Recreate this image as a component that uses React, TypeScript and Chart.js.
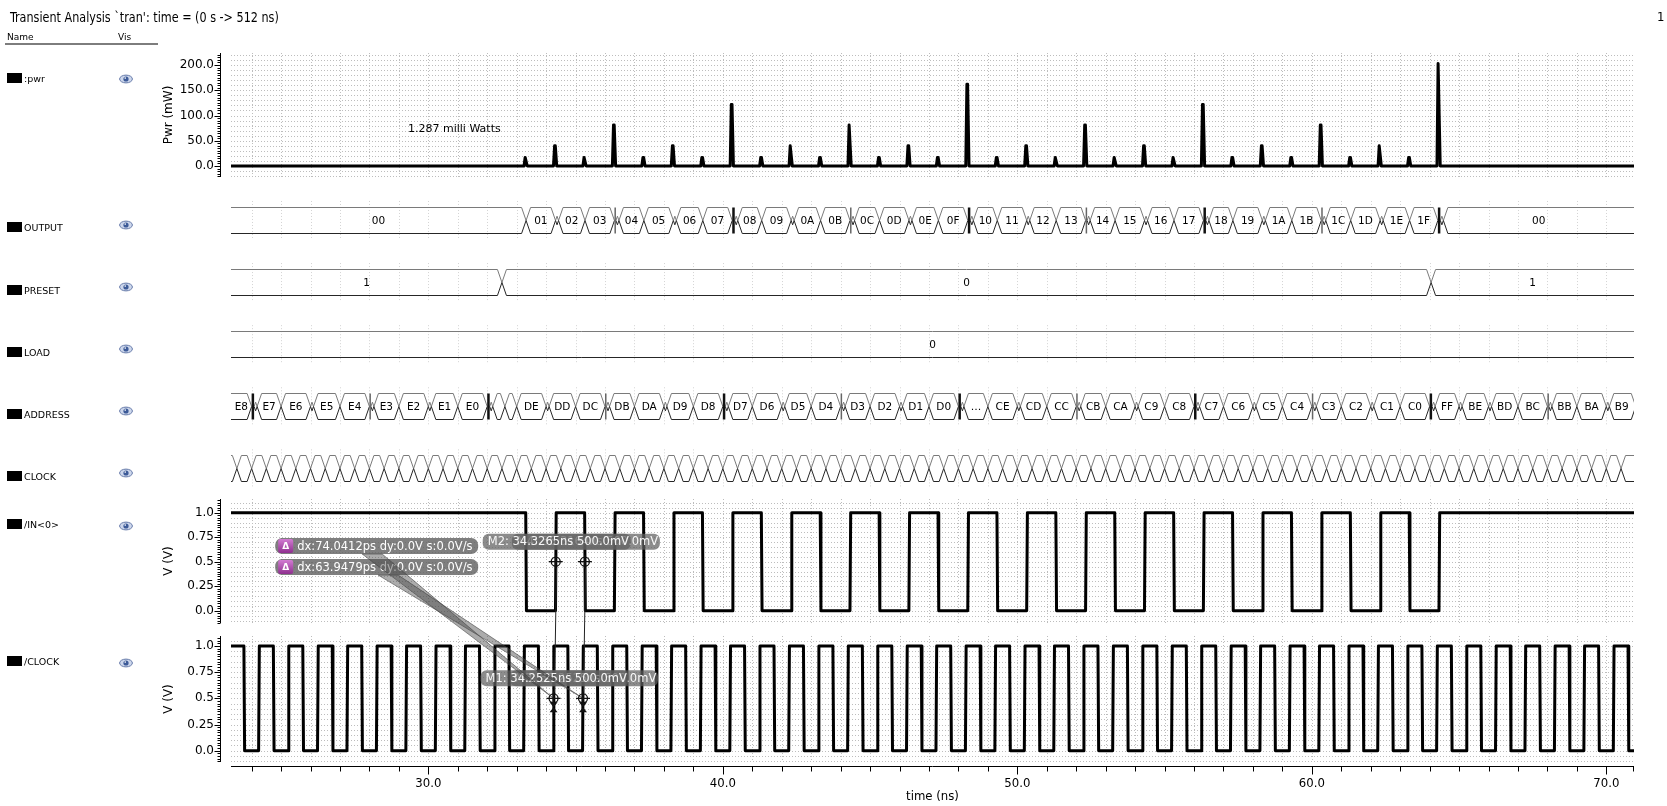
import { useEffect, useRef } from "react";
import { Chart, registerables } from "chart.js";

Chart.register(...registerables);

// ---------------- data ----------------
const X_MIN = 23.3;
const X_MAX = 70.94;
const X_LABEL_TICKS = [30, 40, 50, 60, 70];
const PWR_LABEL_TICKS = [0, 50, 100, 150, 200];
const VOLT_LABEL_TICKS = [0, 0.25, 0.5, 0.75, 1.0];

const PWR_SPIKE_TIMES = [33.3, 34.3, 35.3, 36.3, 37.3, 38.3, 39.3, 40.3, 41.3, 42.3, 43.3, 44.3, 45.3, 46.3, 47.3, 48.3, 49.3, 50.3, 51.3, 52.3, 53.3, 54.3, 55.3, 56.3, 57.3, 58.3, 59.3, 60.3, 61.3, 62.3, 63.3, 64.3];
const PWR_SPIKE_MW = [17, 40, 17, 81, 17, 40, 17, 122, 17, 40, 17, 81, 17, 40, 17, 162, 17, 40, 17, 81, 17, 40, 17, 122, 17, 40, 17, 81, 17, 40, 17, 203];
const PWR_AVG_TEXT = "1.287 milli Watts";

const IN0_INITIAL = 1;
const IN0_EDGE_TIMES = [33.32, 34.33, 35.32, 36.33, 37.32, 38.33, 39.32, 40.33, 41.32, 42.33, 43.32, 44.33, 45.32, 46.33, 47.32, 48.33, 49.32, 50.33, 51.32, 52.33, 53.32, 54.33, 55.32, 56.33, 57.32, 58.33, 59.32, 60.33, 61.32, 62.33, 63.32, 64.33];
const IN0_EDGE_LEVELS = [0, 1, 0, 1, 0, 1, 0, 1, 0, 1, 0, 1, 0, 1, 0, 1, 0, 1, 0, 1, 0, 1, 0, 1, 0, 1, 0, 1, 0, 1, 0, 1];

const CLK_INITIAL = 1;
const CLK_EDGE_TIMES = [23.75, 24.25, 24.75, 25.25, 25.75, 26.25, 26.75, 27.25, 27.75, 28.25, 28.75, 29.25, 29.75, 30.25, 30.75, 31.25, 31.75, 32.25, 32.75, 33.25, 33.75, 34.25, 34.75, 35.25, 35.75, 36.25, 36.75, 37.25, 37.75, 38.25, 38.75, 39.25, 39.75, 40.25, 40.75, 41.25, 41.75, 42.25, 42.75, 43.25, 43.75, 44.25, 44.75, 45.25, 45.75, 46.25, 46.75, 47.25, 47.75, 48.25, 48.75, 49.25, 49.75, 50.25, 50.75, 51.25, 51.75, 52.25, 52.75, 53.25, 53.75, 54.25, 54.75, 55.25, 55.75, 56.25, 56.75, 57.25, 57.75, 58.25, 58.75, 59.25, 59.75, 60.25, 60.75, 61.25, 61.75, 62.25, 62.75, 63.25, 63.75, 64.25, 64.75, 65.25, 65.75, 66.25, 66.75, 67.25, 67.75, 68.25, 68.75, 69.25, 69.75, 70.25, 70.75];
const CLK_EDGE_LEVELS = "01010101010101010101010101010101010101010101010101010101010101010101010101010101010101010101010".split("").map(Number);

const OUTPUT_TIMES = [33.32, 34.32, 35.32, 36.32, 37.32, 38.32, 39.32, 40.32, 41.32, 42.32, 43.32, 44.32, 45.32, 46.32, 47.32, 48.32, 49.32, 50.32, 51.32, 52.32, 53.32, 54.32, 55.32, 56.32, 57.32, 58.32, 59.32, 60.32, 61.32, 62.32, 63.32, 64.28];
const OUTPUT_VALUES = ["00", "01", "02", "03", "04", "05", "06", "07", "08", "09", "0A", "0B", "0C", "0D", "0E", "0F", "10", "11", "12", "13", "14", "15", "16", "17", "18", "19", "1A", "1B", "1C", "1D", "1E", "1F", "00"];

const PRESET_TIMES = [32.5, 64.05];
const PRESET_VALUES = ["1", "0", "1"];

const LOAD_TIMES: number[] = [];
const LOAD_VALUES = ["0"];

const ADDRESS_TIMES = [24, 25, 26, 27, 28, 29, 30, 31, 32, 32.6, 33, 34, 35, 36, 37, 38, 39, 40, 41, 42, 43, 44, 45, 46, 47, 48, 49, 50, 51, 52, 53, 54, 55, 56, 57, 58, 59, 60, 61, 62, 63, 64, 65, 66, 67, 68, 69, 70, 71];
const ADDRESS_VALUES = ["E8", "E7", "E6", "E5", "E4", "E3", "E2", "E1", "E0", "FF", "DF", "DE", "DD", "DC", "DB", "DA", "D9", "D8", "D7", "D6", "D5", "D4", "D3", "D2", "D1", "D0", "CF", "CE", "CD", "CC", "CB", "CA", "C9", "C8", "C7", "C6", "C5", "C4", "C3", "C2", "C1", "C0", "FF", "BE", "BD", "BC", "BB", "BA", "B9", "B8"];
const ADDRESS_ELIDED = ["CF"];

const CLOCK_BUS_TIMES = [23.5, 24, 24.5, 25, 25.5, 26, 26.5, 27, 27.5, 28, 28.5, 29, 29.5, 30, 30.5, 31, 31.5, 32, 32.5, 33, 33.5, 34, 34.5, 35, 35.5, 36, 36.5, 37, 37.5, 38, 38.5, 39, 39.5, 40, 40.5, 41, 41.5, 42, 42.5, 43, 43.5, 44, 44.5, 45, 45.5, 46, 46.5, 47, 47.5, 48, 48.5, 49, 49.5, 50, 50.5, 51, 51.5, 52, 52.5, 53, 53.5, 54, 54.5, 55, 55.5, 56, 56.5, 57, 57.5, 58, 58.5, 59, 59.5, 60, 60.5, 61, 61.5, 62, 62.5, 63, 63.5, 64, 64.5, 65, 65.5, 66, 66.5, 67, 67.5, 68, 68.5, 69, 69.5, 70, 70.5];
const CLOCK_BUS_VALUES = "101010101010101010101010101010101010101010101010101010101010101010101010101010101010101010101010".split("");

const SIGNAL_NAMES = [":pwr", "OUTPUT", "PRESET", "LOAD", "ADDRESS", "CLOCK", "/IN<0>", "/CLOCK"];

// drawn in this order: later ones lie on top
const MARKERS = [
  { name: "M4", axis: "yIn", t: 35.3164, v: 0.5 },
  { name: "M2", axis: "yIn", t: 34.3265, v: 0.5 },
  { name: "M3", axis: "yClk", t: 35.2525, v: 0.5 },
  { name: "M1", axis: "yClk", t: 34.2525, v: 0.5 },
];
const DELTAS = [
  { a: "M1", b: "M2", dxPs: "74.0412", dy: "0.0", slope: "0.0" },
  { a: "M3", b: "M4", dxPs: "63.9479", dy: "0.0", slope: "0.0" },
];

// ---------------- layout / style ----------------
const W = 1667;
const H = 806;
const SANS = "'DejaVu Sans', 'Noto Sans', sans-serif";
const NARROW = "'Liberation Sans Narrow', 'DejaVu Sans Condensed', 'Arial Narrow', sans-serif";
const GRID_COLOR = "#bdbdbd";
const DIG_GRID_COLOR = "#d4d4d4";
const ROW_Y = [79, 228, 291, 353, 415, 477, 525, 662];
const EYE_Y = [79, 224.5, 287, 349, 411, 473, 526, 663];
const DELTA_ANCHORS = [
  { t: 24.8, v: 0.66, wedgeDx: 97 },
  { t: 24.8, v: 0.445, wedgeDx: 113 },
];

function fmtV(v: number) {
  const r = Math.round(v * 100) / 100;
  return Number.isInteger(Math.round(r * 1000) / 100) ? r.toFixed(1) : String(r);
}

function stepSeries(initial: number, times: number[], levels: number[]) {
  const pts: { x: number; y: number }[] = [{ x: X_MIN, y: initial }];
  let cur = initial;
  times.forEach((t, i) => {
    pts.push({ x: t - 0.012, y: cur });
    pts.push({ x: t + 0.012, y: levels[i] });
    cur = levels[i];
  });
  pts.push({ x: X_MAX, y: cur });
  return pts;
}

function powerSeries() {
  const pts: { x: number; y: number }[] = [{ x: X_MIN, y: 0 }];
  PWR_SPIKE_TIMES.forEach((t, i) => {
    const v = PWR_SPIKE_MW[i];
    pts.push({ x: t - 0.05, y: 0 }, { x: t - 0.012, y: v }, { x: t + 0.012, y: v }, { x: t + 0.06, y: 0 });
  });
  pts.push({ x: X_MAX, y: 0 });
  return pts;
}

function hexFlips(a: string, b: string) {
  if (!/^[0-9A-F]+$/i.test(a) || !/^[0-9A-F]+$/i.test(b)) return 1;
  let v = parseInt(a, 16) ^ parseInt(b, 16);
  let c = 0;
  while (v) {
    c += v & 1;
    v >>= 1;
  }
  return c;
}

function drawBus(ctx: any, X: (t: number) => number, area: any, yc: number, times: number[], values: string[], elided: string[] = []) {
  const HH = 13;
  const S = 4.5;
  const top = Math.round(yc - HH) + 0.5;
  const bot = Math.round(yc + HH) + 0.5;
  const mid = (top + bot) / 2;
  const hFull = (bot - top) / 2;
  ctx.save();
  ctx.beginPath();
  ctx.rect(area.left, top - 4, area.right - area.left, bot - top + 8);
  ctx.clip();
  ctx.setLineDash([]);
  ctx.lineWidth = 1;
  const boxes: any[] = [];
  const bars: any[] = [];
  let xa = area.left - 40;
  let openL = true;
  for (let i = 0; i < values.length; i++) {
    const last = i === values.length - 1;
    const xb = last ? area.right + 40 : X(times[i]);
    boxes.push({ xa, xb, openL, openR: last, label: values[i] });
    if (!last) {
      const k = hexFlips(values[i], values[i + 1]);
      let nx = xb;
      if (k >= 3) {
        const bw = k >= 4 ? 2.5 : 1.5;
        bars.push({ x: nx, w: bw, c: k >= 4 ? "#111" : "#666" });
        nx += bw;
      }
      if (k >= 2) {
        boxes.push({ xa: nx, xb: nx + 3, openL: false, openR: false, label: "" });
        nx += 3;
      }
      xa = nx;
      openL = false;
    }
  }
  ctx.font = `10.5px ${SANS}`;
  ctx.textAlign = "center";
  ctx.textBaseline = "middle";
  for (const b of boxes) {
    const w = b.xb - b.xa;
    const s = Math.min(S, w / 2);
    const hh = (s / S) * hFull;
    ctx.beginPath();
    if (b.openL) ctx.moveTo(b.xa, mid - hFull);
    else {
      ctx.moveTo(b.xa, mid);
      ctx.lineTo(b.xa + s, mid - hh);
    }
    if (b.openR) ctx.lineTo(b.xb, mid - hFull);
    else {
      ctx.lineTo(b.xb - s, mid - hh);
      ctx.lineTo(b.xb, mid);
    }
    ctx.strokeStyle = "#7a7a7a";
    ctx.stroke();
    ctx.beginPath();
    if (b.openL) ctx.moveTo(b.xa, mid + hFull);
    else {
      ctx.moveTo(b.xa, mid);
      ctx.lineTo(b.xa + s, mid + hh);
    }
    if (b.openR) ctx.lineTo(b.xb, mid + hFull);
    else {
      ctx.lineTo(b.xb - s, mid + hh);
      ctx.lineTo(b.xb, mid);
    }
    ctx.strokeStyle = "#262626";
    ctx.stroke();
    if (b.label) {
      const vl = Math.max(b.xa, area.left);
      const vr = Math.min(b.xb, area.right);
      const slopeL = b.openL ? 0 : S;
      const slopeR = S;
      const text = elided.includes(b.label) ? "\u2026" : b.label;
      const tw = ctx.measureText(text).width;
      if (tw <= vr - vl - slopeL - slopeR + 0.5) {
        ctx.fillStyle = "#000";
        ctx.fillText(text, (vl + vr) / 2, mid + 0.5);
      }
    }
  }
  for (const br of bars) {
    ctx.fillStyle = br.c;
    ctx.fillRect(br.x, top, br.w, bot - top);
  }
  ctx.restore();
}

const ANALOG_GRIDS = [
  { id: "yPwr", step: 10, minor: 5, majors: PWR_LABEL_TICKS },
  { id: "yIn", step: 0.05, minor: 0.025, majors: VOLT_LABEL_TICKS },
  { id: "yClk", step: 0.05, minor: 0.025, majors: VOLT_LABEL_TICKS },
];
const DIG_TRACKS = [
  { times: OUTPUT_TIMES, values: OUTPUT_VALUES, elided: [] as string[] },
  { times: PRESET_TIMES, values: PRESET_VALUES, elided: [] as string[] },
  { times: LOAD_TIMES, values: LOAD_VALUES, elided: [] as string[] },
  { times: ADDRESS_TIMES, values: ADDRESS_VALUES, elided: ADDRESS_ELIDED },
  { times: CLOCK_BUS_TIMES, values: CLOCK_BUS_VALUES, elided: [] as string[] },
];

function nsGrid(xs: any) {
  const out: number[] = [];
  for (let t = Math.ceil(X_MIN); t <= X_MAX; t++) out.push(Math.round(xs.getPixelForValue(t)) + 0.5);
  return out;
}

const decorPlugin = {
  id: "waveDecor",
  beforeDatasetsDraw(chart: any) {
    const { ctx, chartArea: a } = chart;
    const xs = chart.scales.x;
    const cols = nsGrid(xs);
    ctx.save();
    ctx.lineWidth = 1;
    ctx.setLineDash([1, 2]);
    ctx.strokeStyle = GRID_COLOR;
    for (const g of ANALOG_GRIDS) {
      const s = chart.scales[g.id];
      ctx.beginPath();
      for (const px of cols) {
        ctx.moveTo(px, s.top);
        ctx.lineTo(px, s.bottom);
      }
      for (let k = Math.ceil(s.min / g.step); k * g.step <= s.max; k++) {
        const py = Math.round(s.getPixelForValue(k * g.step)) + 0.5;
        ctx.moveTo(a.left, py);
        ctx.lineTo(a.right, py);
      }
      ctx.stroke();
    }
    const yd = chart.scales.yDig;
    ctx.strokeStyle = DIG_GRID_COLOR;
    ctx.beginPath();
    DIG_TRACKS.forEach((_, k) => {
      const yc = yd.getPixelForValue(k);
      for (const px of cols) {
        ctx.moveTo(px, yc - 19);
        ctx.lineTo(px, yc + 19);
      }
    });
    ctx.stroke();
    ctx.restore();
  },
  afterDatasetsDraw(chart: any) {
    const { ctx, chartArea: a } = chart;
    const xs = chart.scales.x;
    const X = (t: number) => xs.getPixelForValue(t);
    ctx.save();
    ctx.setLineDash([]);
    ctx.strokeStyle = "#000";
    ctx.lineWidth = 1;
    const ax = a.left - 10.5;
    for (const g of ANALOG_GRIDS) {
      const s = chart.scales[g.id];
      ctx.beginPath();
      ctx.moveTo(ax, s.top);
      ctx.lineTo(ax, s.bottom);
      for (let k = Math.ceil(s.min / g.minor); k * g.minor <= s.max; k++) {
        const py = Math.round(s.getPixelForValue(k * g.minor)) + 0.5;
        ctx.moveTo(ax - 3, py);
        ctx.lineTo(ax, py);
      }
      for (const v of g.majors) {
        const py = Math.round(s.getPixelForValue(v)) + 0.5;
        ctx.moveTo(ax - 6, py);
        ctx.lineTo(ax, py);
      }
      ctx.stroke();
    }
    const ay = a.bottom + 0.5;
    ctx.beginPath();
    ctx.moveTo(a.left, ay);
    ctx.lineTo(a.right, ay);
    for (let t = Math.ceil(X_MIN); t <= X_MAX; t++) {
      const px = Math.round(X(t)) + 0.5;
      const len = t % 10 === 0 ? 8 : 5;
      ctx.moveTo(px, ay);
      ctx.lineTo(px, ay + len);
    }
    ctx.moveTo(a.right - 0.5, ay);
    ctx.lineTo(a.right - 0.5, ay + 5);
    ctx.stroke();

    const yd = chart.scales.yDig;
    DIG_TRACKS.forEach((tr, k) => {
      drawBus(ctx, X, a, yd.getPixelForValue(k), tr.times, tr.values, tr.elided);
    });

    const mpos: Record<string, { x: number; y: number }> = {};
    for (const m of MARKERS) mpos[m.name] = { x: X(m.t), y: chart.scales[m.axis].getPixelForValue(m.v) };
    ctx.strokeStyle = "#222";
    ctx.lineWidth = 1;
    for (const d of DELTAS) {
      const p = mpos[d.b];
      const q = mpos[d.a];
      ctx.beginPath();
      ctx.moveTo(Math.round(p.x) + 0.5, p.y + 6);
      ctx.lineTo(Math.round(q.x) + 0.5, q.y - 6);
      ctx.stroke();
    }
    ctx.font = `11.5px ${SANS}`;
    ctx.textAlign = "left";
    ctx.textBaseline = "middle";
    for (const m of MARKERS) {
      const p = mpos[m.name];
      const lx = p.x - 73;
      const ly = p.y - 28;
      ctx.fillStyle = "rgba(95,95,95,0.72)";
      ctx.beginPath();
      ctx.roundRect(lx, ly, 148, 16, 6);
      ctx.fill();
      ctx.fillStyle = "rgba(255,255,255,0.95)";
      ctx.fillText(`${m.name}: ${m.t.toFixed(4)}ns ${(m.v * 1000).toFixed(1)}mV`, lx + 5, ly + 8.5);
    }
    const yin = chart.scales.yIn;
    const labelBoxes: any[] = [];
    DELTAS.forEach((d, i) => {
      const an = DELTA_ANCHORS[i];
      const lx = X(an.t);
      const lyc = yin.getPixelForValue(an.v);
      const ly = lyc - 8;
      labelBoxes.push({ lx, ly, an });
      ctx.fillStyle = "rgba(95,95,95,0.8)";
      ctx.beginPath();
      ctx.roundRect(lx, ly, 203, 16, 7);
      ctx.fill();
      const grad = ctx.createLinearGradient(0, ly + 1, 0, ly + 15);
      grad.addColorStop(0, "#d27bd2");
      grad.addColorStop(1, "#8e2f8e");
      ctx.fillStyle = grad;
      ctx.beginPath();
      ctx.roundRect(lx + 3, ly + 1, 15, 14, 2);
      ctx.fill();
      ctx.fillStyle = "#fff";
      ctx.font = `bold 9px ${SANS}`;
      ctx.textAlign = "center";
      ctx.fillText("\u0394", lx + 10.5, ly + 8.5);
      ctx.font = `11.5px ${SANS}`;
      ctx.textAlign = "left";
      ctx.fillText(`dx:${d.dxPs}ps dy:${d.dy}V s:${d.slope}V/s`, lx + 22, ly + 8.5);
    });
    DELTAS.forEach((d, i) => {
      const { lx, ly, an } = labelBoxes[i];
      const target = mpos[d.a];
      const bx = lx + an.wedgeDx;
      const by = ly + 16;
      ctx.fillStyle = "rgba(70,70,70,0.45)";
      ctx.beginPath();
      ctx.moveTo(bx - 10, by);
      ctx.lineTo(bx + 10, by);
      ctx.lineTo(target.x, target.y);
      ctx.closePath();
      ctx.fill();
      ctx.strokeStyle = "rgba(60,60,60,0.55)";
      ctx.stroke();
    });
    ctx.lineWidth = 1.3;
    for (const m of MARKERS) {
      const p = mpos[m.name];
      ctx.strokeStyle = "#111";
      ctx.beginPath();
      ctx.arc(p.x, p.y, 4.5, 0, Math.PI * 2);
      ctx.moveTo(p.x - 7, p.y);
      ctx.lineTo(p.x + 7, p.y);
      ctx.moveTo(p.x, p.y - 7);
      ctx.lineTo(p.x, p.y + 7);
      ctx.stroke();
      if (m.axis === "yClk") {
        ctx.fillStyle = "#111";
        ctx.beginPath();
        ctx.moveTo(p.x - 4, p.y + 4);
        ctx.lineTo(p.x + 4, p.y + 4);
        ctx.lineTo(p.x, p.y + 9);
        ctx.closePath();
        ctx.moveTo(p.x, p.y + 9);
        ctx.lineTo(p.x - 4, p.y + 14);
        ctx.lineTo(p.x + 4, p.y + 14);
        ctx.closePath();
        ctx.fill();
      }
    }
    ctx.restore();
  },
};

function yAxis(min: number, max: number, weight: number, stackWeight: number, title: string, ticks: number[]) {
  return {
    type: "linear",
    position: "left",
    stack: "v",
    stackWeight,
    weight,
    min,
    max,
    grid: { display: false, drawTicks: false },
    border: { display: false },
    afterFit: (s: any) => {
      s.width = 71;
    },
    afterBuildTicks: (s: any) => {
      s.ticks = ticks.map((v) => ({ value: v }));
    },
    ticks: {
      padding: 17,
      autoSkip: false,
      color: "#000",
      font: { family: SANS, size: 12 },
      callback: (v: any) => fmtV(Number(v)),
    },
    title: {
      display: true,
      text: title,
      color: "#000",
      font: { family: SANS, size: 12 },
      padding: { top: 2, bottom: 0 },
    },
  };
}

function hiddenAxis(min: number, max: number, weight: number, stackWeight: number, reverse = false) {
  return {
    type: "linear",
    position: "left",
    stack: "v",
    stackWeight,
    weight,
    min,
    max,
    reverse,
    display: false,
  };
}

function Eye({ x, y }: { x: number; y: number }) {
  return (
    <svg style={{ position: "absolute", left: x - 7, top: y - 5 }} width={14} height={10} viewBox="0 0 14 10">
      <ellipse cx={7} cy={5} rx={6.4} ry={3.9} fill="#cdd7ec" stroke="#6479a8" strokeWidth={1} />
      <circle cx={7} cy={5} r={2.6} fill="#3d5b98" />
      <circle cx={6.2} cy={4.1} r={0.8} fill="#ffffff" />
    </svg>
  );
}

export default function App() {
  const canvasRef = useRef<HTMLCanvasElement | null>(null);

  useEffect(() => {
    const canvas = canvasRef.current;
    if (!canvas) return;
    const line = (data: any, yAxisID: string) => ({
      data,
      yAxisID,
      xAxisID: "x",
      borderColor: "#000",
      borderWidth: 3,
      pointRadius: 0,
      tension: 0,
      fill: false,
      borderJoinStyle: "round",
      borderCapStyle: "round",
    });
    const chart = new Chart(canvas, {
      type: "line",
      data: {
        datasets: [
          line(powerSeries(), "yPwr"),
          line(stepSeries(IN0_INITIAL, IN0_EDGE_TIMES, IN0_EDGE_LEVELS), "yIn"),
          line(stepSeries(CLK_INITIAL, CLK_EDGE_TIMES, CLK_EDGE_LEVELS), "yClk"),
        ] as any,
      },
      options: {
        animation: false,
        responsive: false,
        devicePixelRatio: 1,
        events: [],
        layout: { padding: { left: 160, top: 53, right: 33, bottom: 0 } },
        plugins: { legend: { display: false }, tooltip: { enabled: false } },
        scales: {
          x: {
            type: "linear",
            position: "bottom",
            min: X_MIN,
            max: X_MAX,
            grid: { display: false, drawTicks: false },
            border: { display: false },
            afterFit: (s: any) => {
              s.height = 40;
            },
            afterBuildTicks: (s: any) => {
              s.ticks = X_LABEL_TICKS.map((v) => ({ value: v }));
            },
            ticks: {
              padding: 10,
              autoSkip: false,
              maxRotation: 0,
              color: "#000",
              font: { family: NARROW, size: 13 },
              callback: (v: any) => Number(v).toFixed(1),
            },
            title: {
              display: true,
              text: "time (ns)",
              color: "#000",
              font: { family: NARROW, size: 13 },
              padding: { top: 0, bottom: 2 },
            },
          },
          yPwr: yAxis(-21.8, 223.8, 60, 124, "Pwr (mW)", PWR_LABEL_TICKS),
          yDig: hiddenAxis(-0.692, 4.493, 50, 322, true),
          yIn: yAxis(-0.1255, 1.14, 40, 124, "V (V)", VOLT_LABEL_TICKS),
          gapA: hiddenAxis(0, 1, 30, 13),
          yClk: yAxis(-0.108, 1.0955, 20, 126, "V (V)", VOLT_LABEL_TICKS),
          gapB: hiddenAxis(0, 1, 10, 4),
        } as any,
      },
      plugins: [decorPlugin],
    } as any);
    return () => chart.destroy();
  }, []);

  return (
    <div style={{ position: "absolute", left: 0, top: 0, width: W, height: H, background: "#fff", overflow: "hidden" }}>
      <canvas ref={canvasRef} width={W} height={H} style={{ position: "absolute", left: 0, top: 0, width: W, height: H }} />
      <div
        style={{
          position: "absolute",
          left: 10,
          top: 9,
          font: `14px ${NARROW}`,
          color: "#000",
          whiteSpace: "nowrap",
          transform: "scaleX(0.89)",
          transformOrigin: "0 0",
        }}
      >
        Transient Analysis `tran': time = (0 s -&gt; 512 ns)
      </div>
      <div style={{ position: "absolute", left: 1657, top: 9, font: `13px ${NARROW}`, color: "#000" }}>1</div>
      <div style={{ position: "absolute", left: 7, top: 32, font: `9px ${SANS}`, color: "#000" }}>Name</div>
      <div style={{ position: "absolute", left: 118, top: 32, font: `9px ${SANS}`, color: "#000" }}>Vis</div>
      <div style={{ position: "absolute", left: 5, top: 43, width: 153, height: 2, background: "#7d7d7d" }} />
      {SIGNAL_NAMES.map((name, i) => (
        <div key={name}>
          <div style={{ position: "absolute", left: 7, top: ROW_Y[i] - 6, width: 15, height: 10, background: "#000" }} />
          <div style={{ position: "absolute", left: 24, top: ROW_Y[i] - 6, font: `9.5px ${SANS}`, lineHeight: "12px", color: "#000", whiteSpace: "nowrap" }}>
            {name}
          </div>
          <Eye x={126} y={EYE_Y[i]} />
        </div>
      ))}
      <div style={{ position: "absolute", left: 408, top: 122, font: `11px ${SANS}`, color: "#000", whiteSpace: "nowrap" }}>
        {PWR_AVG_TEXT}
      </div>
    </div>
  );
}
